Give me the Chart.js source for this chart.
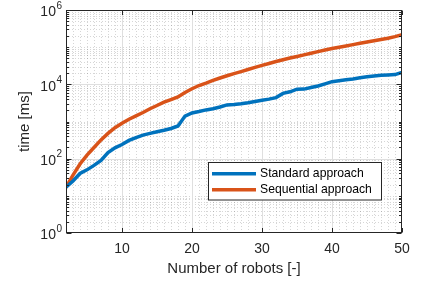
<!DOCTYPE html>
<html>
<head>
<meta charset="utf-8">
<script src="https://cdn.jsdelivr.net/npm/chart.js@4.4.1/dist/chart.umd.min.js"></script>
<style>
html, body { margin: 0; padding: 0; background: #fff; }
#wrap { width: 428px; height: 284px; }
</style>
</head>
<body>
<div id="wrap"><canvas id="myChart" width="428" height="284"></canvas></div>
<script>
// number of robots on the x axis
const robots = [2,3,4,5,6,7,8,9,10,11,12,13,14,15,16,17,18,19,20,21,22,23,24,25,26,
	27,28,29,30,31,32,33,34,35,36,37,38,39,40,41,42,43,44,45,46,47,48,49,50];

// computation time in ms
const standardMs = [17,25,40,50,66,90,145,195,240,310,370,430,480,530,580,650,760,1400,1700,1850,
	2050,2200,2450,2800,2850,3000,3200,3450,3750,4000,4400,5700,6300,7400,7450,8200,9000,10300,
	11800,12500,13300,14000,15000,15900,16800,17600,17900,18300,21000];
const sequentialMs = [17,36,72,125,200,320,480,680,900,1150,1420,1750,2200,2700,3300,3900,4600,
	6000,7600,9300,10800,12700,14800,17000,19500,22000,25000,28500,32500,36500,41000,46000,51000,
	56000,62000,68500,76000,84000,92000,100000,108000,117000,127000,138000,149000,161000,174000,
	192000,215000];

const xTicks = [10,20,30,40,50];
const yTicks = [1,100,10000,1000000];
const yTickExp = ['0','2','4','6'];

const FONT = '"Liberation Sans", Arial, Helvetica, sans-serif';
const AX = '#262626';

function seg(ctx, x1, y1, x2, y2) {
	ctx.beginPath();
	ctx.moveTo(x1, y1);
	ctx.lineTo(x2, y2);
	ctx.stroke();
}

const matlabAxes = {
	id: 'matlabAxes',
	beforeDatasetsDraw(chart) {
		const ctx = chart.ctx, a = chart.chartArea, x = chart.scales.x, y = chart.scales.y;
		ctx.save();
		ctx.lineWidth = 1;
		// minor grid, dotted
		ctx.strokeStyle = 'rgba(0,0,0,0.16)';
		ctx.setLineDash([1,2]);
		for (let n = 3; n < 50; n++) {
			if (n % 10 === 0) continue;
			const px = Math.round(x.getPixelForValue(n)) + 0.5;
			seg(ctx, px, a.top, px, a.bottom);
		}
		for (let d = 0; d < 6; d++) {
			for (let k = 1; k <= 9; k++) {
				if (k === 1 && d % 2 === 0) continue;
				const py = Math.round(y.getPixelForValue(k * Math.pow(10, d))) + 0.5;
				seg(ctx, a.left, py, a.right, py);
			}
		}
		// major grid
		ctx.setLineDash([]);
		ctx.strokeStyle = '#dfdfdf';
		[10,20,30,40].forEach(function(n) {
			const px = Math.round(x.getPixelForValue(n)) + 0.5;
			seg(ctx, px, a.top, px, a.bottom);
		});
		[100,10000].forEach(function(v) {
			const py = Math.round(y.getPixelForValue(v)) + 0.5;
			seg(ctx, a.left, py, a.right, py);
		});
		ctx.restore();
	},
	afterDraw(chart) {
		const ctx = chart.ctx, a = chart.chartArea, x = chart.scales.x, y = chart.scales.y;
		ctx.save();
		ctx.strokeStyle = AX;
		ctx.lineWidth = 1;
		const L = a.left + 0.5, R = a.right - 0.5, T = a.top + 0.5, B = a.bottom - 0.5;
		ctx.strokeRect(L, T, R - L, B - T);

		// inward ticks
		xTicks.forEach(function(n) {
			const px = Math.round(x.getPixelForValue(n)) + 0.5;
			seg(ctx, px, B, px, B - 4.5);
			seg(ctx, px, T, px, T + 4.5);
		});
		for (let d = 0; d <= 6; d++) {
			for (let k = 1; k <= 9; k++) {
				const v = k * Math.pow(10, d);
				if (v > 1000000) break;
				const py = Math.round(y.getPixelForValue(v)) + 0.5;
				const len = (k === 1 && d % 2 === 0) ? 5 : 2.5;
				seg(ctx, L, py, L + len, py);
				seg(ctx, R, py, R - len, py);
			}
		}

		// y tick labels 10^n
		ctx.fillStyle = AX;
		ctx.textBaseline = 'middle';
		ctx.textAlign = 'right';
		yTicks.forEach(function(v, i) {
			const py = y.getPixelForValue(v);
			ctx.font = '10px ' + FONT;
			const ew = ctx.measureText(yTickExp[i]).width;
			ctx.fillText(yTickExp[i], 62, py - 4);
			ctx.font = '14px ' + FONT;
			ctx.fillText('10', 62 - ew - 0.5, py + 2.5);
		});

		// legend
		const lx = 208.5, ly = 162.5, lw = 173, lh = 37.5;
		ctx.fillStyle = '#fff';
		ctx.fillRect(lx, ly, lw, lh);
		ctx.strokeStyle = AX;
		ctx.strokeRect(lx, ly, lw, lh);
		ctx.textAlign = 'left';
		ctx.font = '12.2px ' + FONT;
		chart.data.datasets.forEach(function(ds, i) {
			const yy = 173.7 + i * 16;
			ctx.strokeStyle = ds.borderColor;
			ctx.lineWidth = 3.5;
			seg(ctx, 212, yy, 256, yy);
			ctx.fillStyle = '#000';
			ctx.fillText(ds.label, 260, yy);
		});
		ctx.restore();
	}
};

new Chart(document.getElementById('myChart'), {
	type: 'line',
	data: {
		datasets: [{
			label: 'Standard approach',
			data: robots.map((n, i) => ({x: n, y: standardMs[i]})),
			borderColor: '#0072BD',
			borderWidth: 3.5,
			pointRadius: 0,
			tension: 0
		}, {
			label: 'Sequential approach',
			data: robots.map((n, i) => ({x: n, y: sequentialMs[i]})),
			borderColor: '#D95319',
			borderWidth: 3.5,
			pointRadius: 0,
			tension: 0
		}]
	},
	options: {
		responsive: false,
		animation: false,
		events: [],
		layout: { padding: { left: 0, right: 26, top: 10, bottom: 0 } },
		plugins: { legend: { display: false }, tooltip: { enabled: false } },
		scales: {
			x: {
				type: 'linear',
				min: 2,
				max: 50,
				afterBuildTicks: (s) => { s.ticks = xTicks.map(v => ({value: v})); },
				afterFit: (s) => { s.height = 51; },
				grid: { display: false, drawTicks: false },
				border: { display: false },
				ticks: {
					autoSkip: false,
					maxRotation: 0,
					padding: 8,
					color: AX,
					font: { family: FONT, size: 14 },
					callback: (v) => String(v)
				},
				title: {
					display: true,
					text: 'Number of robots [-]',
					color: AX,
					font: { family: FONT, size: 15 },
					padding: { top: 0, bottom: 6 }
				}
			},
			y: {
				type: 'logarithmic',
				min: 1,
				max: 1000000,
				afterBuildTicks: (s) => { s.ticks = yTicks.map(v => ({value: v})); },
				afterFit: (s) => { s.width = 66; },
				grid: { display: false, drawTicks: false },
				border: { display: false },
				ticks: { display: false },
				title: {
					display: true,
					text: 'time [ms]',
					color: AX,
					font: { family: FONT, size: 15 },
					padding: { top: 16, bottom: 0 }
				}
			}
		}
	},
	plugins: [matlabAxes]
});
</script>
</body>
</html>
